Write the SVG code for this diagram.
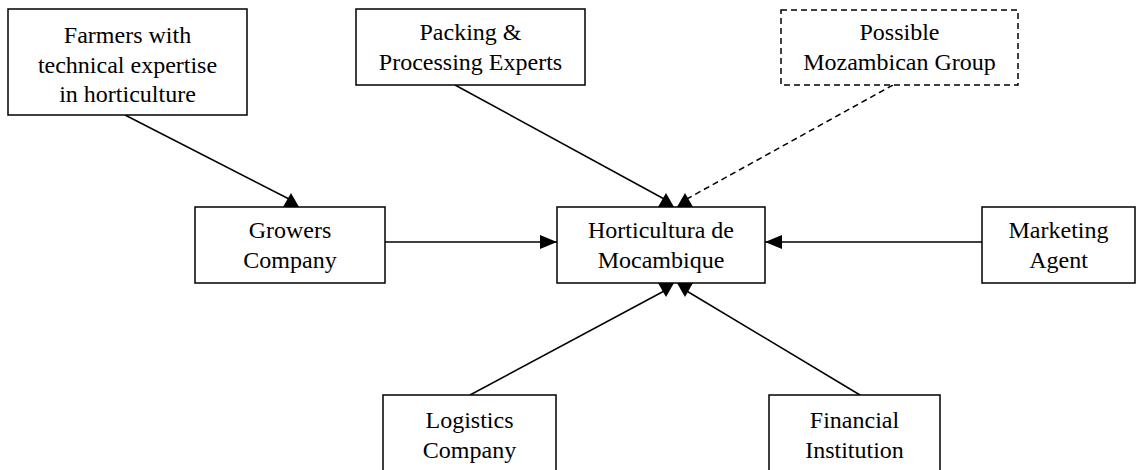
<svg xmlns="http://www.w3.org/2000/svg" width="1143" height="470" viewBox="0 0 1143 470">
  <style>
    .box { fill: #fff; stroke: #000; stroke-width: 1.5; }
    .dash { stroke-dasharray: 6 4; }
    .lbl { font-family: 'Liberation Serif', 'DejaVu Serif', serif; font-size: 24px; fill: #000; text-anchor: middle; }
    .edge { stroke: #000; stroke-width: 1.5; fill: none; }
    .tip { marker-end: url(#arrow); }
    .head { fill: #000; stroke: none; }
  </style>
  <defs>
    <marker id="arrow" viewBox="0 0 17 14" refX="17" refY="7" markerWidth="17" markerHeight="14" markerUnits="userSpaceOnUse" orient="auto">
      <path d="M0,0 L17,7 L0,14 Z" fill="#000"/>
    </marker>
  </defs>

  <rect width="1143" height="470" fill="#fff"/>

  <!-- connectors: lines plus the triangular heads sitting on the box edges -->
  <g id="connectors">
    <line class="edge" x1="125" y1="115" x2="291" y2="200"/>
    <line class="edge" x1="455" y1="85" x2="666" y2="200"/>
    <line class="edge dash" x1="893" y1="85" x2="685" y2="200"/>
    <line class="edge tip" x1="385" y1="242" x2="557" y2="242"/>
    <line class="edge tip" x1="982" y1="242" x2="765" y2="242"/>
    <line class="edge" x1="470" y1="395" x2="666" y2="290"/>
    <line class="edge" x1="860" y1="395" x2="685" y2="290"/>
    <polygon class="head" points="283,207 299,207 291,193"/>
    <polygon class="head" points="658,207 674,207 666,193"/>
    <polygon class="head" points="677,207 693,207 685,193"/>
    <polygon class="head" points="658,283 674,283 666,297"/>
    <polygon class="head" points="677,283 693,283 685,297"/>
  </g>

  <g id="farmers">
    <rect class="box" x="8" y="9" width="239" height="106"/>
    <text class="lbl" x="127.5" y="43">Farmers with</text>
    <text class="lbl" x="127.5" y="73">technical expertise</text>
    <text class="lbl" x="127.5" y="102">in horticulture</text>
  </g>

  <g id="packing">
    <rect class="box" x="356" y="9" width="229" height="76"/>
    <text class="lbl" x="470.5" y="40">Packing &amp;</text>
    <text class="lbl" x="470.5" y="69.5">Processing Experts</text>
  </g>

  <g id="mozambican-group">
    <rect class="box dash" x="781" y="10" width="237" height="75"/>
    <text class="lbl" x="899.5" y="40">Possible</text>
    <text class="lbl" x="899.5" y="70">Mozambican Group</text>
  </g>

  <g id="growers">
    <rect class="box" x="195" y="207" width="190" height="76"/>
    <text class="lbl" x="290" y="238">Growers</text>
    <text class="lbl" x="290" y="268">Company</text>
  </g>

  <g id="horticultura">
    <rect class="box" x="557" y="207" width="208" height="76"/>
    <text class="lbl" x="661" y="238">Horticultura de</text>
    <text class="lbl" x="661" y="268">Mocambique</text>
  </g>

  <g id="marketing">
    <rect class="box" x="982" y="207" width="153" height="76"/>
    <text class="lbl" x="1058.5" y="238">Marketing</text>
    <text class="lbl" x="1058.5" y="268">Agent</text>
  </g>

  <g id="logistics">
    <rect class="box" x="383" y="395" width="173" height="76"/>
    <text class="lbl" x="469.5" y="428">Logistics</text>
    <text class="lbl" x="469.5" y="458">Company</text>
  </g>

  <g id="financial">
    <rect class="box" x="769" y="395" width="171" height="76"/>
    <text class="lbl" x="854.5" y="428">Financial</text>
    <text class="lbl" x="854.5" y="458">Institution</text>
  </g>
</svg>
